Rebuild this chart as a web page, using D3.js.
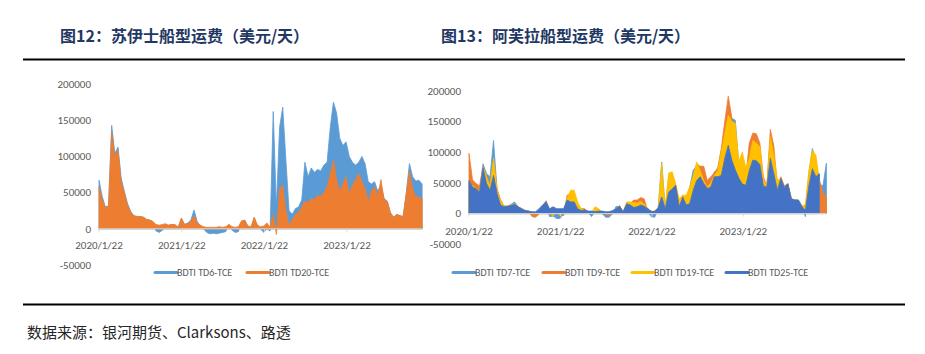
<!DOCTYPE html>
<html>
<head>
<meta charset="utf-8">
<script src="https://cdn.jsdelivr.net/npm/d3@7"></script>
<style>
  body { margin: 0; background: #fff; }
  svg { display: block; }
</style>
</head>
<body>
<svg id="chart" width="925" height="354"></svg>
<script>
// 数据：两周一个样本点，单位 千美元/天
const startDate = new Date(2020, 0, 22);
const nPoints = 103;
const xTickLabels = ["2020/1/22", "2021/1/22", "2022/1/22", "2023/1/22"];
const yTicks = [-50000, 0, 50000, 100000, 150000, 200000];

// 苏伊士
const td6 = [67,45,30,32,143,104,113,70,52,35, 24,18,17,17,16,13,12,10,-3,-5,
  -2,2,5,6,5,2,14,6,8,12, 26,10,4,0,-5,-7,-6,-7,-6,-5,
  -4,6,-2,-5,-4,10,12,3,2,15, 4,0,-5,0,-3,162,30,140,168,95,
  25,20,28,30,40,92,72,84,78,82, 80,88,92,140,175,160,125,115,120,100,
  92,88,92,100,90,65,62,65,52,60, 42,38,22,16,20,18,17,50,90,72,
  66,67,62];
const td20 = [58,40,30,30,134,100,108,65,50,33, 23,18,17,17,16,13,12,10,6,5,
  6,7,5,6,6,2,15,6,7,10, 18,8,5,3,2,2,2,2,3,2,
  3,6,3,2,3,11,12,4,3,16, 5,3,4,8,2,20,-8,55,60,25,
  5,12,20,22,30,38,36,42,40,46, 45,50,58,75,95,68,52,62,72,48,
  60,68,76,65,55,38,52,58,45,68, 40,38,22,16,20,18,17,48,80,55,
  44,44,42];

// 阿芙拉
const td7 = [50,45,40,36,81,65,60,119,40,22, 12,12,15,19,11,8,5,4,0,-2,
  5,12,18,-5,-4,-8,-8,0,22,20, 20,8,5,4,2,-5,4,3,0,-6,
  -6,0,12,10,3,15,14,12,12,15, 12,3,-5,-6,8,84,8,60,62,46,
  15,28,25,43,71,78,72,60,45,50, 68,68,75,100,150,155,152,80,90,65,
  80,100,100,90,50,44,100,80,45,55, 44,48,24,22,22,12,-5,65,106,85,
  48,45,82];
const td9 = [98,55,49,45,76,62,45,85,40,22, 12,12,14,16,11,8,5,4,-5,-6,
  -1,12,21,5,5,3,2,-4,30,33, 33,13,8,8,3,2,6,5,3,-2,
  -3,2,8,13,2,16,16,22,22,26, 24,5,2,5,8,30,6,45,50,40,
  20,30,18,40,60,81,77,77,54,60, 66,75,106,150,191,157,120,70,80,60,
  115,131,130,115,60,45,137,110,45,60, 45,48,24,22,22,12,10,60,100,70,
  55,35,27];
const td19 = [50,45,42,36,76,60,45,90,38,22, 12,12,14,16,11,8,5,4,0,0,
  5,12,18,0,-4,2,-3,5,25,38, 38,19,8,6,3,2,11,8,2,1,
  2,3,8,10,3,19,19,18,17,20, 15,9,2,3,8,82,10,66,68,48,
  24,30,30,43,62,84,70,54,43,50, 62,70,100,130,160,150,147,85,100,75,
  90,119,115,109,55,44,125,95,55,55, 42,46,24,22,22,12,15,70,103,95,
  55,null,null];
const td25 = [54,43,41,35,75,49,38,62,33,14, 11,12,13,15,11,8,5,4,3,3,
  8,14,19,8,11,8,8,8,22,19, 19,8,5,6,4,4,3,4,4,3,
  3,5,8,12,3,16,14,10,11,14, 12,8,4,3,10,27,8,35,40,46,
  11,27,14,16,38,54,60,49,41,43, 60,60,62,90,111,87,71,58,48,46,
  70,87,86,80,45,43,90,65,38,57, 42,49,24,22,22,12,5,45,73,60,
  65,null,null];

const dates = d3.range(nPoints).map(i => d3.timeDay.offset(startDate, 14 * i));
const parseTick = d3.timeParse("%Y/%m/%d");

const svg = d3.select("#chart");
const tickFont = "Carlito, 'Liberation Sans Narrow', 'Liberation Sans', sans-serif";
const cjkFont = "'Noto Sans CJK SC', 'Noto Sans', sans-serif";

// 标题
svg.append("text").attr("x", 60).attr("y", 42)
  .attr("font-family", cjkFont).attr("font-weight", 700).attr("font-size", 16)
  .attr("fill", "#1f3864").text("图12：苏伊士船型运费（美元/天）");
svg.append("text").attr("x", 441).attr("y", 42)
  .attr("font-family", cjkFont).attr("font-weight", 700).attr("font-size", 16)
  .attr("fill", "#1f3864").text("图13：阿芙拉船型运费（美元/天）");

// 分隔线
svg.append("line").attr("x1", 23).attr("x2", 905).attr("y1", 59.5).attr("y2", 59.5)
  .attr("stroke", "#000").attr("stroke-width", 2);
svg.append("line").attr("x1", 23).attr("x2", 905).attr("y1", 304.5).attr("y2", 304.5)
  .attr("stroke", "#000").attr("stroke-width", 2);

svg.append("text").attr("x", 27).attr("y", 338)
  .attr("font-family", cjkFont).attr("font-size", 15)
  .attr("fill", "#262626").text("数据来源：银河期货、Clarksons、路透");

function drawPanel(cfg) {
  const g = svg.append("g");
  const x = d3.scaleTime()
    .domain([parseTick(xTickLabels[0]), parseTick(xTickLabels[3])])
    .range(cfg.xRange);
  const y = d3.scaleLinear().domain([-50000, 200000]).range(cfg.yRange);

  // y 轴标签
  g.selectAll(".ytick").data(yTicks).enter().append("text")
    .attr("x", cfg.yLabelX).attr("y", d => y(d)).attr("dy", "0.35em")
    .attr("text-anchor", "end")
    .attr("font-family", tickFont).attr("font-size", 11)
    .attr("fill", "#595959").text(d => d);

  // 面积
  cfg.series.forEach(s => {
    const pts = dates.map((d, i) => ({ d: d, v: s.values[i] }));
    const area = d3.area()
      .defined(p => p.v != null)
      .x(p => x(p.d))
      .y0(y(0))
      .y1(p => y(p.v * 1000));
    g.append("path").datum(pts)
      .attr("d", area)
      .attr("fill", s.color)
      .attr("stroke", s.color)
      .attr("stroke-width", 0.8);
  });

  // 零轴
  const x0 = x(dates[0]), x1 = x(dates[nPoints - 1]);
  g.append("line").attr("x1", x0).attr("x2", x1)
    .attr("y1", y(0)).attr("y2", y(0))
    .attr("stroke", "#d9d9d9").attr("stroke-width", 1);
  xTickLabels.forEach(t => {
    const tx = x(parseTick(t));
    g.append("line").attr("x1", tx).attr("x2", tx)
      .attr("y1", y(0)).attr("y2", y(0) + 3)
      .attr("stroke", "#d9d9d9");
    g.append("text").attr("x", tx).attr("y", y(0) + cfg.xLabelDy)
      .attr("dy", "0.35em").attr("text-anchor", "middle")
      .attr("font-family", tickFont).attr("font-size", 11)
      .attr("fill", "#595959").text(t);
  });

  // 图例
  cfg.series.forEach((s, i) => {
    const lx = cfg.legendX[i];
    g.append("line").attr("x1", lx).attr("x2", lx + 22)
      .attr("y1", 272.5).attr("y2", 272.5)
      .attr("stroke", s.color).attr("stroke-width", 3)
      .attr("stroke-linecap", "round");
    g.append("text").attr("x", lx + 22).attr("y", 272.5).attr("dy", "0.35em")
      .attr("font-family", tickFont).attr("font-size", 10)
      .attr("fill", "#595959").text(s.name);
  });
}

drawPanel({
  xRange: [99, 347],
  yRange: [265, 84],
  yLabelX: 91,
  xLabelDy: 16.5,
  legendX: [155, 247],
  series: [
    { name: "BDTI TD6-TCE", values: td6, color: "#5b9bd5" },
    { name: "BDTI TD20-TCE", values: td20, color: "#ed7d31" }
  ]
});

drawPanel({
  xRange: [469, 743.3],
  yRange: [244.3, 90.7],
  yLabelX: 461,
  xLabelDy: 17.4,
  legendX: [453, 543, 632, 726],
  series: [
    { name: "BDTI TD7-TCE", values: td7, color: "#5b9bd5" },
    { name: "BDTI TD9-TCE", values: td9, color: "#ed7d31" },
    { name: "BDTI TD19-TCE", values: td19, color: "#ffc000" },
    { name: "BDTI TD25-TCE", values: td25, color: "#4472c4" }
  ]
});
</script>
</body>
</html>
